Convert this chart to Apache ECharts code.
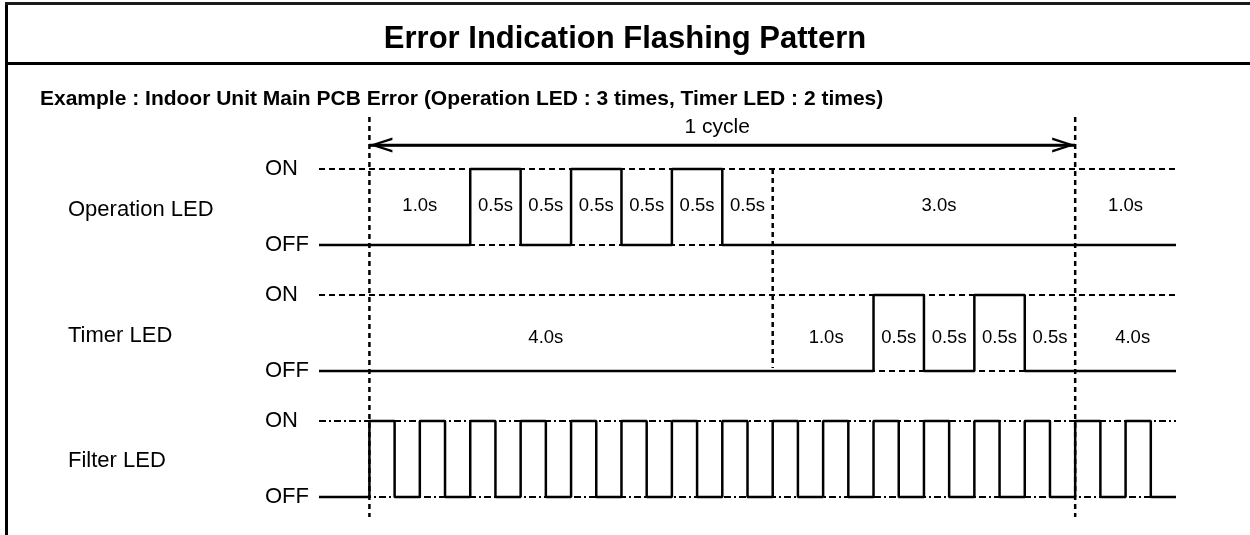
<!DOCTYPE html>
<html><head><meta charset="utf-8">
<script src="https://cdn.jsdelivr.net/npm/echarts@6/dist/echarts.min.js"></script>
<style>html,body{margin:0;padding:0;background:#fff}#c{width:1250px;height:535px}</style>
</head><body><div id="c"></div>
<script>
// ---------- data ----------
const titleText = 'Error Indication Flashing Pattern';
const subtitleText = 'Example : Indoor Unit Main PCB Error (Operation LED : 3 times, Timer LED : 2 times)';
const rowNames = ['Operation LED', 'Timer LED', 'Filter LED'];
const levelNames = ['OFF', 'ON'];
const timeRange = [-0.5, 8];          // seconds shown
const cycleBounds = [0, 7];           // one full cycle
const cycleLabel = '1 cycle';
const groupBound = 4;                 // operation group ends / timer group starts

// Operation LED : 3 flashes
const opEdges  = [-0.5, 1.0, 1.5, 2.0, 2.5, 3.0, 3.5, 8.0];
const opStates = [0, 1, 0, 1, 0, 1, 0, 0];
const opLabels   = ['1.0s', '0.5s', '0.5s', '0.5s', '0.5s', '0.5s', '0.5s', '3.0s', '1.0s'];
const opLabelAt  = [0.5, 1.25, 1.75, 2.25, 2.75, 3.25, 3.75, 5.65, 7.5];

// Timer LED : 2 flashes
const timerEdges  = [-0.5, 5.0, 5.5, 6.0, 6.5, 8.0];
const timerStates = [0, 1, 0, 1, 0, 0];
const timerLabels  = ['4.0s', '1.0s', '0.5s', '0.5s', '0.5s', '0.5s', '4.0s'];
const timerLabelAt = [1.75, 4.53, 5.25, 5.75, 6.25, 6.75, 7.57];

// Filter LED : fast flashing
const filterEdges  = [-0.5, 0, 0.25, 0.5, 0.75, 1, 1.25, 1.5, 1.75, 2, 2.25, 2.5, 2.75, 3, 3.25, 3.5, 3.75,
                      4, 4.25, 4.5, 4.75, 5, 5.25, 5.5, 5.75, 6, 6.25, 6.5, 6.75, 7, 7.25, 7.5, 7.75, 8];
const filterStates = [0, 1, 0, 1, 0, 1, 0, 1, 0, 1, 0, 1, 0, 1, 0, 1, 0,
                      1, 0, 1, 0, 1, 0, 1, 0, 1, 0, 1, 0, 1, 0, 1, 0, 0];
const filterLabels  = ['0.1s / 0.1s'];
const filterLabelAt = [0.69];

// ---------- layout / style ----------
const FONT = '"Liberation Sans", Arial, Helvetica, sans-serif';
const INK = '#000';
const gridLeft = 319, gridRight = 74;
const rowTops = [169, 295, 421];
const rowHeight = 76;
const labelLevels = [0.513, 0.43, 1.18];
const overlayTop = 117, overlayHeight = 400;
const dashTypes = [[6, 4], [6, 4], [7, 3, 2, 3]];

const rows = [
  {edges: opEdges, states: opStates, labels: opLabels, at: opLabelAt},
  {edges: timerEdges, states: timerStates, labels: timerLabels, at: timerLabelAt},
  {edges: filterEdges, states: filterStates, labels: filterLabels, at: filterLabelAt}
];

const hiddenItem = {color: 'rgba(0,0,0,0)', opacity: 1};
const grids = [], xAxes = [], yAxes = [], series = [];
rows.forEach((r, i) => {
  grids.push({left: gridLeft, right: gridRight, top: rowTops[i], height: rowHeight});
  xAxes.push({type: 'value', gridIndex: i, min: timeRange[0], max: timeRange[1], show: false});
  yAxes.push({
    type: 'value', gridIndex: i, min: 0, max: 1, interval: 1,
    axisLine: {show: false}, axisTick: {show: false},
    axisLabel: {formatter: v => levelNames[v], align: 'left', margin: 54, fontSize: 22,
                color: INK, fontFamily: FONT},
    splitLine: {show: true, lineStyle: {type: dashTypes[i], color: INK, width: 2}}
  });
  series.push({
    type: 'line', xAxisIndex: i, yAxisIndex: i, step: 'end', symbol: 'none', clip: false,
    silent: true, lineStyle: {color: INK, width: 2.5},
    data: r.edges.map((t, k) => [t, r.states[k]])
  });
  series.push({
    type: 'scatter', xAxisIndex: i, yAxisIndex: i, symbolSize: 1, silent: true,
    itemStyle: hiddenItem,
    label: {show: true, position: 'inside', formatter: p => p.data[2], opacity: 1,
            fontSize: 18.5, color: INK, fontFamily: FONT},
    data: r.at.map((t, k) => [t, labelLevels[i], r.labels[k]])
  });
});

// overlay grid for cycle markers
grids.push({left: gridLeft, right: gridRight, top: overlayTop, height: overlayHeight});
xAxes.push({type: 'value', gridIndex: 3, min: timeRange[0], max: timeRange[1], show: false});
yAxes.push({type: 'value', gridIndex: 3, min: 0, max: overlayHeight, inverse: true, show: false});

const dashV = {color: INK, width: 2.5, type: [5, 4]};
cycleBounds.forEach(t => {
  series.push({type: 'line', xAxisIndex: 3, yAxisIndex: 3, symbol: 'none', silent: true, clip: false,
    lineStyle: dashV, data: [[t, 0], [t, overlayHeight]]});
});
series.push({type: 'line', xAxisIndex: 3, yAxisIndex: 3, symbol: 'none', silent: true, clip: false,
  lineStyle: dashV, data: [[groupBound, rowTops[0] - overlayTop], [groupBound, rowTops[1] + rowHeight - overlayTop - 3]]});

const arrowRow = 28;
const chevron = 'path://M7,0L7.05,0L7,0.05Z M7,23 L14,46 L11.6,46 L7,30 L2.4,46 L0,46 Z';
series.push({
  type: 'line', xAxisIndex: 3, yAxisIndex: 3, symbol: 'none', silent: true, clip: false,
  lineStyle: {color: INK, width: 2.5},
  data: [[cycleBounds[0], arrowRow], [cycleBounds[1], arrowRow]],
  markLine: {
    silent: true, symbol: [chevron, chevron], symbolSize: [15, 46],
    lineStyle: {color: INK, width: 2.5, type: 'solid'}, label: {show: false},
    data: [[{coord: [cycleBounds[0], arrowRow]}, {coord: [cycleBounds[1], arrowRow]}]]
  }
});
series.push({
  type: 'scatter', xAxisIndex: 3, yAxisIndex: 3, symbolSize: 1, silent: true,
  itemStyle: hiddenItem,
  label: {show: true, position: 'inside', formatter: () => cycleLabel, opacity: 1,
          fontSize: 21, color: INK, fontFamily: FONT},
  data: [[(cycleBounds[0] + cycleBounds[1]) / 2 - 0.05, 10]]
});

const rowLabelY = [210, 336, 461];
const graphic = [
  {type: 'rect', shape: {x: 5, y: 2, width: 3, height: 540}, style: {fill: INK}},
  {type: 'rect', shape: {x: 5, y: 2, width: 1250, height: 3}, style: {fill: '#1a1a1a'}},
  {type: 'rect', shape: {x: 5, y: 62, width: 1250, height: 3}, style: {fill: INK}}
];
rowNames.forEach((n, i) => graphic.push({
  type: 'text', x: 68, y: rowLabelY[i],
  style: {text: n, fontSize: 22, fontFamily: FONT, fill: INK, verticalAlign: 'middle', align: 'left'}
}));

const chart = echarts.init(document.getElementById('c'), null, {renderer: 'canvas'});
chart.setOption({
  animation: false,
  backgroundColor: '#fff',
  title: [
    {text: titleText, left: 'center', top: 19,
     textStyle: {fontSize: 31, fontWeight: 'bold', color: INK, fontFamily: FONT}},
    {text: subtitleText, left: 35, top: 84,
     textStyle: {fontSize: 21, fontWeight: 'bold', color: INK, fontFamily: FONT}}
  ],
  grid: grids, xAxis: xAxes, yAxis: yAxes, series: series, graphic: graphic
});
</script></body></html>
